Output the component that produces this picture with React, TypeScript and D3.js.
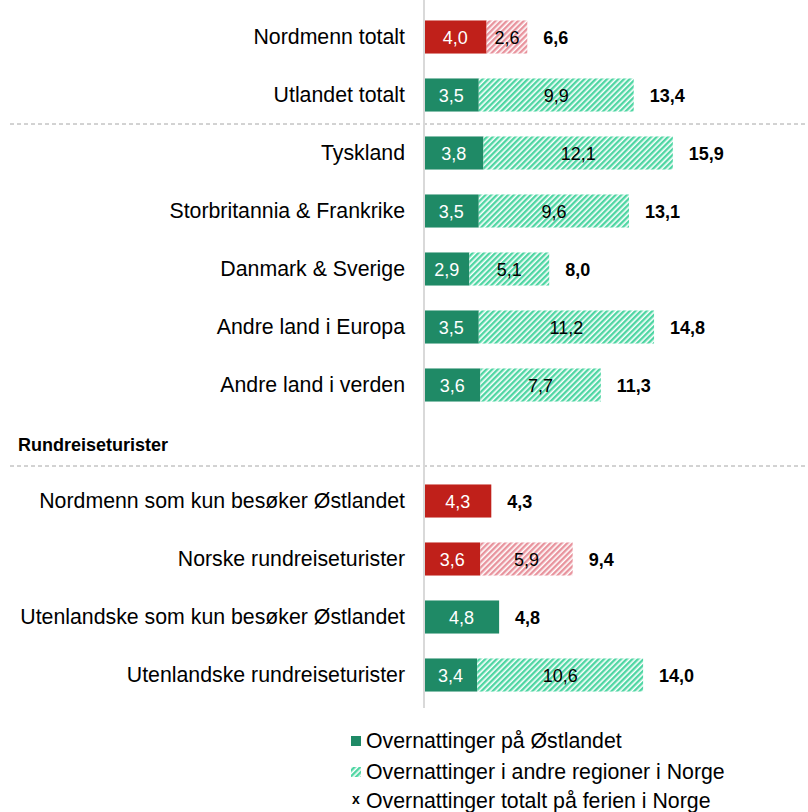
import React from "react";
import * as d3 from "d3";

const categories = [
  "Nordmenn totalt",
  "Utlandet totalt",
  "Tyskland",
  "Storbritannia & Frankrike",
  "Danmark & Sverige",
  "Andre land i Europa",
  "Andre land i verden",
  "",
  "Nordmenn som kun besøker Østlandet",
  "Norske rundreiseturister",
  "Utenlandske som kun besøker Østlandet",
  "Utenlandske rundreiseturister",
];
const ostlandet = [4.0, 3.5, 3.8, 3.5, 2.9, 3.5, 3.6, null, 4.3, 3.6, 4.8, 3.4];
const andre = [2.6, 9.9, 12.1, 9.6, 5.1, 11.2, 7.7, null, null, 5.9, null, 10.6];
const totalt = [6.6, 13.4, 15.9, 13.1, 8.0, 14.8, 11.3, null, 4.3, 9.4, 4.8, 14.0];
const groupType = ["no", "ut", "ut", "ut", "ut", "ut", "ut", "", "no", "no", "ut", "ut"];
const headerLabel = "Rundreiseturister";
const legendLabels = [
  "Overnattinger på Østlandet",
  "Overnattinger i andre regioner i Norge",
  "Overnattinger totalt på ferien i Norge",
];

const W = 808;
const H = 812;
const FONT = "Arial, 'Liberation Sans', sans-serif";
const RED = "#c0201a";
const GREEN = "#1f8a66";

const fmt = (v: number) => d3.format(".1f")(v).replace(".", ",");

export default function App() {
  const x = d3.scaleLinear().domain([0, 24]).range([424, 424 + 24 * 15.65]);
  const y = d3
    .scaleBand<number>()
    .domain(d3.range(categories.length))
    .range([8, 704])
    .paddingInner(0.43)
    .paddingOuter(0.215);
  const bh = y.bandwidth();

  return (
    <svg
      width={W}
      height={H}
      style={{ position: "absolute", left: 0, top: 0, background: "#fff" }}
      fontFamily={FONT}
    >
      <defs>
        <pattern id="hatchRed" width="4" height="4" patternUnits="userSpaceOnUse" patternTransform="rotate(45)">
          <rect width="4" height="4" fill="#fff" />
          <rect width="2.4" height="4" fill="#e8939d" />
        </pattern>
        <pattern id="hatchGreen" width="4" height="4" patternUnits="userSpaceOnUse" patternTransform="rotate(45)">
          <rect width="4" height="4" fill="#fff" />
          <rect width="2.4" height="4" fill="#4fd6a3" />
        </pattern>
      </defs>
      <rect width={W} height={H} fill="#fff" />

      {/* separators */}
      {[124, 466].map((yy) => (
        <line key={yy} x1={10} x2={808} y1={yy} y2={yy} stroke="#a6a6a6" strokeDasharray="4,3" strokeWidth={1} />
      ))}

      {categories.map((c, i) => {
        if (ostlandet[i] == null) return null;
        const cy = (y(i) as number) + bh / 2;
        const a = ostlandet[i] as number;
        const b = andre[i];
        const t = totalt[i] as number;
        const solid = groupType[i] === "no" ? RED : GREEN;
        const hatch = groupType[i] === "no" ? "url(#hatchRed)" : "url(#hatchGreen)";
        const x0 = x(0);
        const x1 = x(a);
        const x2 = b != null ? x(a + b) : x1;
        return (
          <g key={i}>
            <text x={405} y={cy} textAnchor="end" dominantBaseline="central" fontSize={21.3} fill="#000">
              {c}
            </text>
            <rect x={x0} y={y(i)} width={x1 - x0} height={bh} fill={solid} />
            <text x={(x0 + x1) / 2} y={cy + 1} textAnchor="middle" dominantBaseline="central" fontSize={18} fill="#fff">
              {fmt(a)}
            </text>
            {b != null && (
              <>
                <rect x={x1} y={y(i)} width={x2 - x1} height={bh} fill={hatch} />
                <text x={(x1 + x2) / 2} y={cy + 1} textAnchor="middle" dominantBaseline="central" fontSize={18} fill="#000">
                  {fmt(b)}
                </text>
              </>
            )}
            <text x={x2 + 16} y={cy + 1} dominantBaseline="central" fontSize={18} fontWeight="bold" fill="#000">
              {fmt(t)}
            </text>
          </g>
        );
      })}

      <text x={18} y={(y(7) as number) + bh / 2 + 2} dominantBaseline="central" fontSize={18} fontWeight="bold" fill="#000">
        {headerLabel}
      </text>

      {/* axis line */}
      <line x1={x(0)} x2={x(0)} y1={0} y2={708} stroke="#d9d9d9" strokeWidth={2} />

      {/* legend */}
      <g>
        <rect x={351} y={736} width={10} height={10} fill={GREEN} />
        <text x={366} y={741} dominantBaseline="central" fontSize={21.3}>{legendLabels[0]}</text>
        <rect x={351} y={767} width={10} height={10} fill="url(#hatchGreen)" />
        <text x={366} y={772} dominantBaseline="central" fontSize={21.3}>{legendLabels[1]}</text>
        <text x={356} y={799} textAnchor="middle" dominantBaseline="central" fontSize={14} fontWeight="bold">x</text>
        <text x={366} y={801} dominantBaseline="central" fontSize={21.3}>{legendLabels[2]}</text>
      </g>
    </svg>
  );
}
